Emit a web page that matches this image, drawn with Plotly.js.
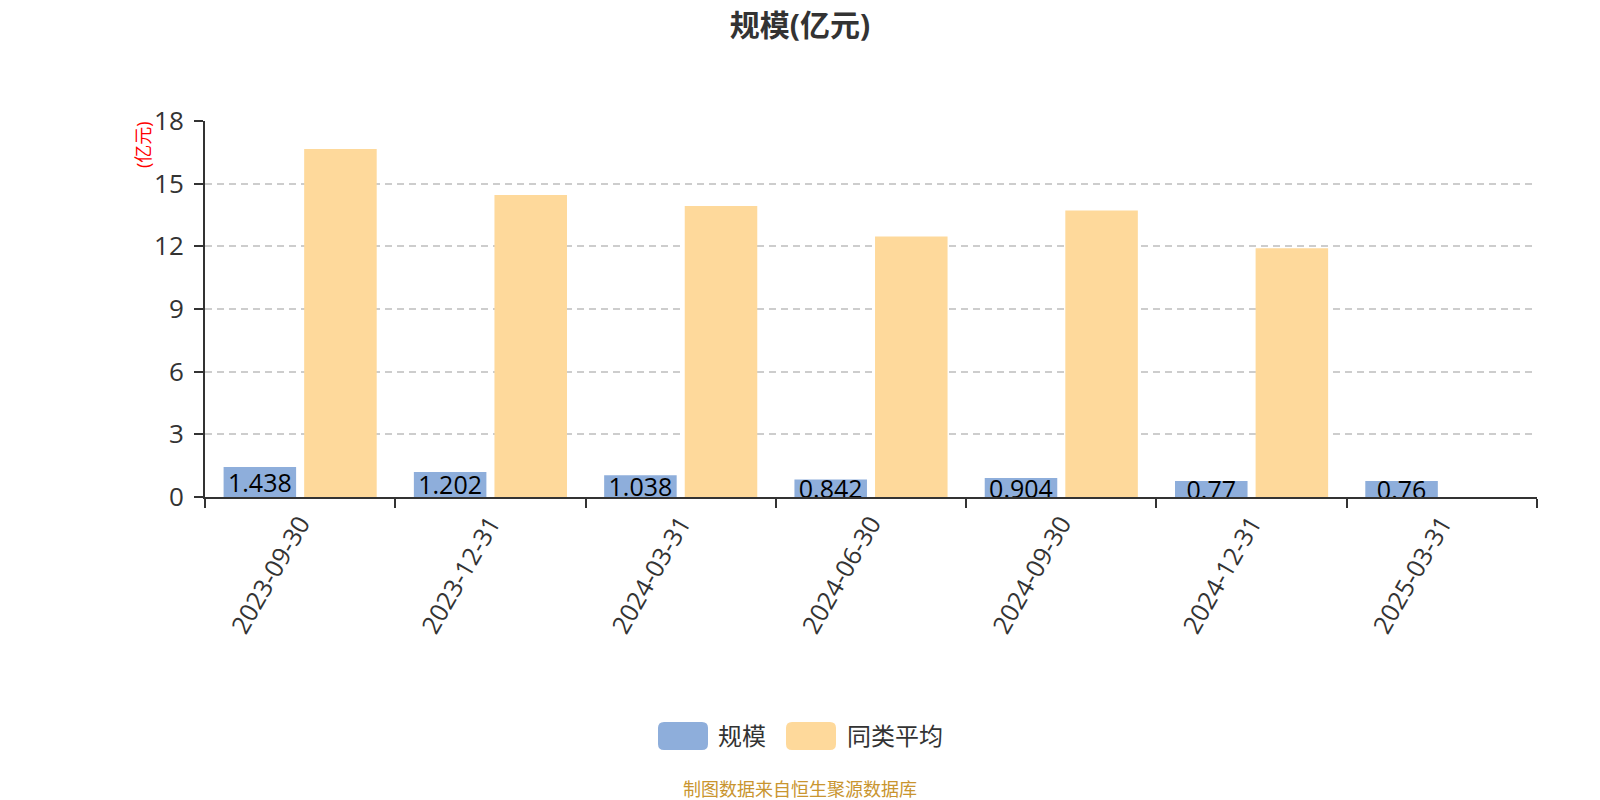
<!DOCTYPE html>
<html>
<head>
<meta charset="utf-8">
<script src="https://cdn.plot.ly/plotly-3.0.1.min.js"></script>
<style>html,body{margin:0;padding:0;background:#fff;}#chart{width:1600px;height:800px;}</style>
</head>
<body>
<div id="chart"></div>
<script>
// ---- data ----
const categories = ['2023-09-30','2023-12-31','2024-03-31','2024-06-30','2024-09-30','2024-12-31','2025-03-31'];
const scaleValues = [1.438, 1.202, 1.038, 0.842, 0.904, 0.77, 0.76];
const peerAvgValues = [16.66, 14.46, 13.93, 12.47, 13.71, 11.91, null];
const seriesNames = ['规模', '同类平均'];
const yTickVals = [0, 3, 6, 9, 12, 15, 18];
const titleText = '规模(亿元)';
const unitText = '(亿元)';
const sourceText = '制图数据来自恒生聚源数据库';

// ---- styling / layout ----
const W = 1600, H = 800;
const M = {l: 205, r: 63, t: 121, b: 303};
const plotW = W - M.l - M.r, plotH = H - M.t - M.b;
const px = x => (x - M.l) / plotW;          // pixel x -> paper
const py = y => (H - M.b - y) / plotH;      // pixel y -> paper
const FONT = '"Open Sans", "Noto Sans CJK SC", sans-serif';
const blue = '#8eaedb', orange = '#fed99b';

const traces = [
  {
    type: 'bar', name: seriesNames[0], x: categories, y: scaleValues,
    marker: {color: blue},
    text: scaleValues.map(v => String(v)),
    textposition: 'inside', insidetextanchor: 'middle', textangle: 0,
    constraintext: 'none',
    textfont: {family: FONT, size: 25, color: '#000'},
    hoverinfo: 'none'
  },
  {
    type: 'bar', name: seriesNames[1], x: categories, y: peerAvgValues,
    marker: {color: orange},
    hoverinfo: 'none'
  }
];

function roundRect(w, h, r) {
  const a = w / 2, b = h / 2;
  return `M${-a + r},${-b} H${a - r} Q${a},${-b} ${a},${-b + r} V${b - r} Q${a},${b} ${a - r},${b} H${-a + r} Q${-a},${b} ${-a},${b - r} V${-b + r} Q${-a},${-b} ${-a + r},${-b} Z`;
}

const legendY = 736;
const legendItems = [
  {cx: 683, color: blue, label: seriesNames[0], tx: 716},
  {cx: 811, color: orange, label: seriesNames[1], tx: 845}
];

const shapes = legendItems.map(it => ({
  type: 'path', xref: 'paper', yref: 'paper',
  xsizemode: 'pixel', ysizemode: 'pixel',
  xanchor: px(it.cx), yanchor: py(legendY),
  path: roundRect(50, 28, 6),
  fillcolor: it.color, line: {width: 0}
}));

const annotations = legendItems.map(it => ({
  xref: 'paper', yref: 'paper', x: px(it.tx), y: py(legendY - 1),
  xanchor: 'left', yanchor: 'middle', showarrow: false,
  text: it.label, font: {family: FONT, size: 24, color: '#333'}
}));
annotations.push({
  xref: 'paper', yref: 'paper', x: px(143), y: py(145),
  xanchor: 'center', yanchor: 'middle', showarrow: false, textangle: -90,
  text: unitText, font: {family: FONT, size: 18, color: '#ff0000'}
});
annotations.push({
  xref: 'paper', yref: 'paper', x: px(800), y: py(789),
  xanchor: 'center', yanchor: 'middle', showarrow: false,
  text: sourceText, font: {family: FONT, size: 18, color: '#c9952f'}
});

const layout = {
  width: W, height: H,
  margin: M,
  paper_bgcolor: '#fff', plot_bgcolor: '#fff',
  showlegend: false,
  title: {
    text: '<b>' + titleText + '</b>',
    x: 0.5, xref: 'container', y: 1 - 25 / H, yref: 'container', yanchor: 'middle',
    font: {family: FONT, size: 30, color: '#333'}
  },
  barmode: 'group', bargap: 0.153, bargroupgap: 0.1,
  xaxis: {
    type: 'category', range: [-0.5, categories.length - 0.5],
    showline: true, linecolor: '#333', linewidth: 2,
    ticks: 'outside', tickson: 'boundaries', ticklen: 9, tickwidth: 2, tickcolor: '#333',
    tickangle: -60, showgrid: false, zeroline: false,
    tickfont: {family: FONT, size: 25, color: '#333'}
  },
  yaxis: {
    range: [0, 18], tickvals: yTickVals, ticktext: yTickVals.map(String),
    showline: true, linecolor: '#333', linewidth: 2,
    ticks: 'outside', ticklen: 9, tickwidth: 2, tickcolor: '#333',
    ticklabelstandoff: 5,
    showgrid: true, gridcolor: '#cdcdcd', gridwidth: 2, griddash: '7px,5px',
    zeroline: false,
    tickfont: {family: FONT, size: 26, color: '#333'}
  },
  shapes: shapes,
  annotations: annotations
};

Plotly.newPlot('chart', traces, layout, {displayModeBar: false, staticPlot: true});
</script>
</body>
</html>
